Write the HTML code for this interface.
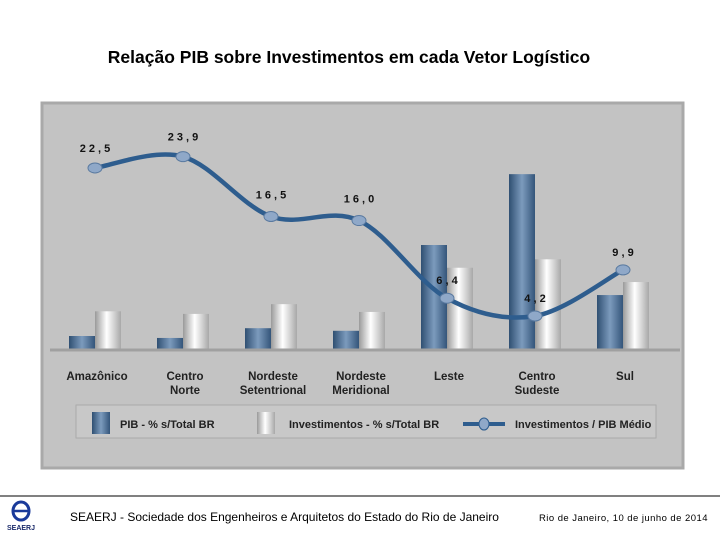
<!DOCTYPE html>
<html><head><meta charset="utf-8"><style>
body{margin:0;width:720px;height:540px;background:#fff;font-family:"Liberation Sans",sans-serif;overflow:hidden;position:relative}
</style></head><body>
<div style="position:absolute;left:0;width:698px;top:47px;text-align:center;font-size:17.5px;font-weight:bold;color:#000">Relação PIB sobre Investimentos em cada Vetor Logístico</div>
<svg id="chart" width="720" height="540" style="position:absolute;left:0;top:0">
<defs>
<linearGradient id="gPib" x1="0" x2="1"><stop offset="0" stop-color="#2f4f72"/><stop offset="0.5" stop-color="#7c9bbd"/><stop offset="1" stop-color="#34557a"/></linearGradient>
<linearGradient id="gInv" x1="0" x2="1"><stop offset="0" stop-color="#9a9a9a"/><stop offset="0.45" stop-color="#ffffff"/><stop offset="1" stop-color="#a8a8a8"/></linearGradient>
</defs>
<rect x="42" y="103" width="641" height="365" fill="#c3c3c3" stroke="#a9a9a9" stroke-width="3"/>
<g id="bars"></g>
<line x1="50" y1="350" x2="680" y2="350" stroke="#a0a0a0" stroke-width="3"/>
<g id="labels"></g>
<g id="line"></g>
<rect x="76" y="405" width="580" height="33" fill="#c8c8c8" stroke="#aaa"/>
<rect x="92" y="412" width="18" height="22" fill="url(#gPib)"/>
<text x="120" y="428" font-size="11" font-weight="bold" fill="#222">PIB - % s/Total BR</text>
<rect x="257" y="412" width="18" height="22" fill="url(#gInv)"/>
<text x="289" y="428" font-size="11" font-weight="bold" fill="#222">Investimentos - % s/Total BR</text>
<line x1="463" y1="424" x2="505" y2="424" stroke="#2e5d8e" stroke-width="4"/>
<ellipse cx="484" cy="424" rx="5" ry="6" fill="#8fa8c8" stroke="#2e5d8e"/>
<text x="515" y="428" font-size="11" font-weight="bold" fill="#222">Investimentos / PIB Médio</text>
<line x1="0" y1="496" x2="720" y2="496" stroke="#000" stroke-width="1"/>
<g>
<ellipse cx="21" cy="511" rx="8" ry="9" fill="none" stroke="#1a3a9a" stroke-width="3"/>
<line x1="13" y1="511" x2="29" y2="511" stroke="#1a3a9a" stroke-width="2.5"/>
<text x="21" y="530" font-size="7" font-weight="bold" text-anchor="middle" fill="#1a2a6a">SEAERJ</text>
</g>
<text x="70" y="521" font-size="12" fill="#000">SEAERJ - Sociedade dos Engenheiros e Arquitetos do Estado do Rio de Janeiro</text>
<text x="539" y="521" font-size="9.5" letter-spacing="0.45" fill="#000">Rio de Janeiro, 10 de junho de 2014</text>
</svg>
<script>
const categories=[["Amazônico"],["Centro","Norte"],["Nordeste","Setentrional"],["Nordeste","Meridional"],["Leste"],["Centro","Sudeste"],["Sul"]];
const pibValues=[2.0,1.7,3.2,2.8,16.0,26.9,8.3];
const invValues=[5.8,5.4,6.9,5.7,12.5,13.8,10.3];
const ratioValues=[22.5,23.9,16.5,16.0,6.4,4.2,9.9];
const ratioLabels=["2 2 , 5","2 3 , 9","1 6 , 5","1 6 , 0","6 , 4","4 , 2","9 , 9"];
const NS="http://www.w3.org/2000/svg";
const xC=i=>95+i*88;
const yBar=v=>349-v*6.5;
const yLine=v=>350-v*8.09;
function mk(t,a,p){const e=document.createElementNS(NS,t);for(const k in a)e.setAttribute(k,a[k]);p.appendChild(e);return e;}
const gb=document.getElementById('bars'),gl=document.getElementById('labels'),gn=document.getElementById('line');
categories.forEach((c,i)=>{
 let r=mk('rect',{x:xC(i)-26,y:yBar(pibValues[i]),width:26,height:349-yBar(pibValues[i]),fill:'url(#gPib)'},gb);
 
 
 r=mk('rect',{x:xC(i),y:yBar(invValues[i]),width:26,height:349-yBar(invValues[i]),fill:'url(#gInv)'},gb);
 
 
 c.forEach((s,j)=>{const t=mk('text',{x:xC(i)+2,y:380+j*14,'font-size':11.5,'font-weight':'bold','text-anchor':'middle',fill:'#222'},gl);t.textContent=s;
 
 });
});
const pts=ratioValues.map((v,i)=>[xC(i),yLine(v)]);
let d='M'+pts[0][0]+','+pts[0][1];
for(let i=0;i<pts.length-1;i++){const p0=pts[i-1]||pts[i],p1=pts[i],p2=pts[i+1],p3=pts[i+2]||p2;
 d+=` C${p1[0]+(p2[0]-p0[0])/6},${p1[1]+(p2[1]-p0[1])/6} ${p2[0]-(p3[0]-p1[0])/6},${p2[1]-(p3[1]-p1[1])/6} ${p2[0]},${p2[1]}`;}
const path=mk('path',{d:d,fill:'none',stroke:'#2e5d8e','stroke-width':4.5},gn);


pts.forEach((p,i)=>{const m=mk('ellipse',{cx:p[0],cy:p[1],rx:7,ry:5,fill:'#8fa8c8',stroke:'#5a7aa0'},gn);
 
 
 const t=mk('text',{x:p[0],y:p[1]-(i==1?16:i==0?16:i>=4?14:18),'font-size':11,'font-weight':'bold','text-anchor':'middle',fill:'#111'},gn);
 t.textContent=ratioLabels[i];
 
 });
</script>
</body></html>
